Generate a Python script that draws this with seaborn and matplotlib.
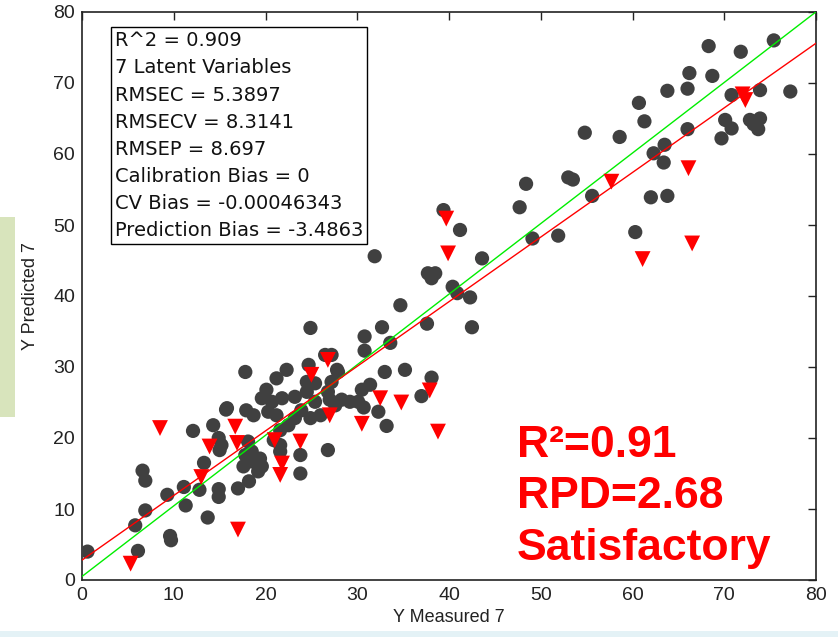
import matplotlib
matplotlib.use("Agg")
import matplotlib.pyplot as plt
import seaborn as sns
import pandas as pd
import numpy as np
from matplotlib.patches import Rectangle

# Calibration samples (black circles)
cal_x = [0.6, 6.6, 6.9, 6.9, 5.8, 6.1, 9.6, 9.7, 9.3, 11.1, 11.3, 12.1, 12.8, 13.7, 13.3,
         14.3, 14.9, 15.0, 14.9, 14.9, 15.7, 17.0, 18.2,
         17.8, 22.3, 21.2, 24.7, 24.5, 25.4, 23.2, 24.5, 27.8, 27.2, 26.8, 20.1, 19.6, 20.7,
         21.8, 15.8, 17.9, 18.7, 20.3, 21.2, 23.2, 23.9, 24.9, 22.5, 21.6, 27.6, 25.4, 15.2,
         17.8, 18.1, 18.5, 19.4, 19.6, 18.5, 19.2, 17.6, 20.9, 21.6, 21.6, 23.8, 23.8, 26.8,
         24.9, 26.5, 27.2, 26.0,
         34.7, 32.7, 30.8, 30.8, 33.6, 37.6, 27.9, 33.0, 35.2, 38.1, 37.0, 31.4, 30.5, 28.3,
         29.2, 30.1, 30.7, 27.0, 32.3, 33.2,
         31.9, 37.7, 38.5, 38.1, 40.4, 40.9, 42.3, 43.6, 41.2, 39.4, 42.5,
         49.1, 51.9, 47.7, 48.4, 53.0, 53.5, 55.6, 54.8, 58.6, 60.7, 61.3, 60.3, 62.0, 63.8,
         62.3, 63.5, 63.4, 63.8, 66.0, 66.2, 66.0, 68.7, 68.3, 71.8, 75.4, 70.8, 73.9, 77.2,
         70.1, 70.8, 69.7, 72.8, 73.9, 73.7, 73.2]
cal_y = [4.0, 15.4, 14.0, 9.8, 7.7, 4.1, 6.2, 5.6, 12.0, 13.1, 10.5, 21.0, 12.7, 8.8, 16.5,
         21.8, 20.0, 18.3, 12.8, 11.7, 24.0, 12.9, 13.9,
         29.3, 29.6, 28.4, 30.3, 27.9, 27.7, 25.8, 26.5, 29.6, 27.9, 26.5, 26.8, 25.6, 25.1,
         25.6, 24.2, 23.9, 23.2, 23.7, 23.2, 22.8, 23.9, 22.8, 21.8, 21.1, 24.6, 25.1, 19.0,
         17.6, 19.5, 18.1, 17.1, 16.0, 16.7, 15.3, 16.0, 19.7, 19.0, 18.1, 17.6, 15.0, 18.3,
         35.5, 31.7, 31.7, 23.2,
         38.7, 35.6, 34.3, 32.3, 33.4, 36.1, 29.3, 29.3, 29.6, 28.5, 25.9, 27.5, 26.8, 25.4,
         25.1, 25.1, 24.3, 25.4, 23.7, 21.7,
         45.6, 43.2, 43.2, 42.5, 41.3, 40.4, 39.8, 45.3, 49.3, 52.1, 35.6,
         48.1, 48.5, 52.5, 55.8, 56.7, 56.4, 54.1, 63.0, 62.4, 67.2, 64.6, 49.0, 53.9, 54.1,
         60.1, 61.3, 58.8, 68.9, 69.2, 71.4, 63.5, 71.0, 75.2, 74.4, 76.0, 68.3, 69.0, 68.8,
         64.8, 63.6, 62.2, 64.8, 65.0, 63.5, 64.2]

# Prediction samples (red triangles)
pred_x = [8.5, 5.3, 13.0, 13.9, 16.7, 16.9, 17.0, 21.0, 23.8, 21.8, 21.6, 25.0, 26.8, 27.0,
          30.5, 32.5, 34.8, 37.9, 38.8, 39.7, 39.9, 57.7, 61.1, 66.1, 66.5, 72.0, 72.3]
pred_y = [21.4, 2.3, 14.5, 18.8, 21.6, 19.3, 7.1, 19.7, 19.5, 16.4, 14.8, 28.9, 31.0, 23.2,
          22.0, 25.6, 25.0, 26.7, 20.9, 50.9, 46.0, 56.1, 45.2, 58.0, 47.4, 68.4, 67.6]

x_ticks = [0, 10, 20, 30, 40, 50, 60, 70, 80]
y_ticks = [0, 10, 20, 30, 40, 50, 60, 70, 80]

stats_lines = ["R^2 = 0.909", "7 Latent Variables", "RMSEC = 5.3897", "RMSECV = 8.3141",
               "RMSEP = 8.697", "Calibration Bias = 0", "CV Bias = -0.00046343",
               "Prediction Bias = -3.4863"]
summary_lines = ["R\u00b2=0.91", "RPD=2.68", "Satisfactory"]

fit_intercept, fit_slope = 2.8, 0.91
ideal_intercept, ideal_slope = 0.5, 0.994

sns.set_style("white")
plt.rcParams['font.family'] = ['Liberation Sans', 'DejaVu Sans']

fig = plt.figure(figsize=(8.38, 6.37), dpi=100)
fig.patches.append(Rectangle((0, 1 - 417 / 637), 15 / 838, 200 / 637, transform=fig.transFigure,
                             fc='#d8e4bc', ec='none', zorder=0))
fig.patches.append(Rectangle((0, 0), 1, 6 / 637, transform=fig.transFigure,
                             fc='#e4f2f6', ec='none', zorder=0))

ax = fig.add_axes([82 / 838, 1 - 580 / 637, 734 / 838, 568 / 637])

cal = pd.DataFrame({'measured': cal_x, 'predicted': cal_y})
pred = pd.DataFrame({'measured': pred_x, 'predicted': pred_y})

sns.scatterplot(data=cal, x='measured', y='predicted', ax=ax, color='#404040', s=105,
                edgecolor='none', linewidth=0, zorder=3, legend=False)
line_x = np.array([0.0, 80.0])
sns.lineplot(x=line_x, y=ideal_intercept + ideal_slope * line_x, color='#00ee00', lw=1,
             ax=ax, zorder=4)
sns.lineplot(x=line_x, y=fit_intercept + fit_slope * line_x, color='#ff0000', lw=1,
             ax=ax, zorder=4)
sns.scatterplot(data=pred, x='measured', y='predicted', ax=ax, marker='v', color='#ff0000',
                s=130, edgecolor='none', linewidth=0, zorder=5, legend=False)

ax.set_xlim(0, 80)
ax.set_ylim(0, 80)
ax.set_xticks(x_ticks)
ax.set_yticks(y_ticks)
ax.tick_params(direction='in', length=6, width=1, top=True, right=True, labelsize=14,
               colors='#222222', pad=5)
for sp in ax.spines.values():
    sp.set_color('#222222')
    sp.set_linewidth(1.2)

ax.set_xlabel("Y Measured 7", fontsize=13, color='#222222', labelpad=4)
ax.set_ylabel("Y Predicted 7", fontsize=13, color='#222222', labelpad=10)

ax.text(0.0445, 0.966, "\n".join(stats_lines), transform=ax.transAxes, va='top', ha='left',
        fontsize=14, linespacing=1.54, color='#111111', zorder=6,
        family=['DejaVu Sans'],
        bbox=dict(boxstyle='square,pad=0.2', fc='white', ec='black', lw=1))

baselines = [0.2165, 0.1268, 0.0352]
for line, yb in zip(summary_lines, baselines):
    ax.text(0.5926, yb, line, transform=ax.transAxes, va='baseline', ha='left',
            fontsize=32, fontweight='bold', color='#ff0000', zorder=6)

fig.savefig("out.png", dpi=100)
